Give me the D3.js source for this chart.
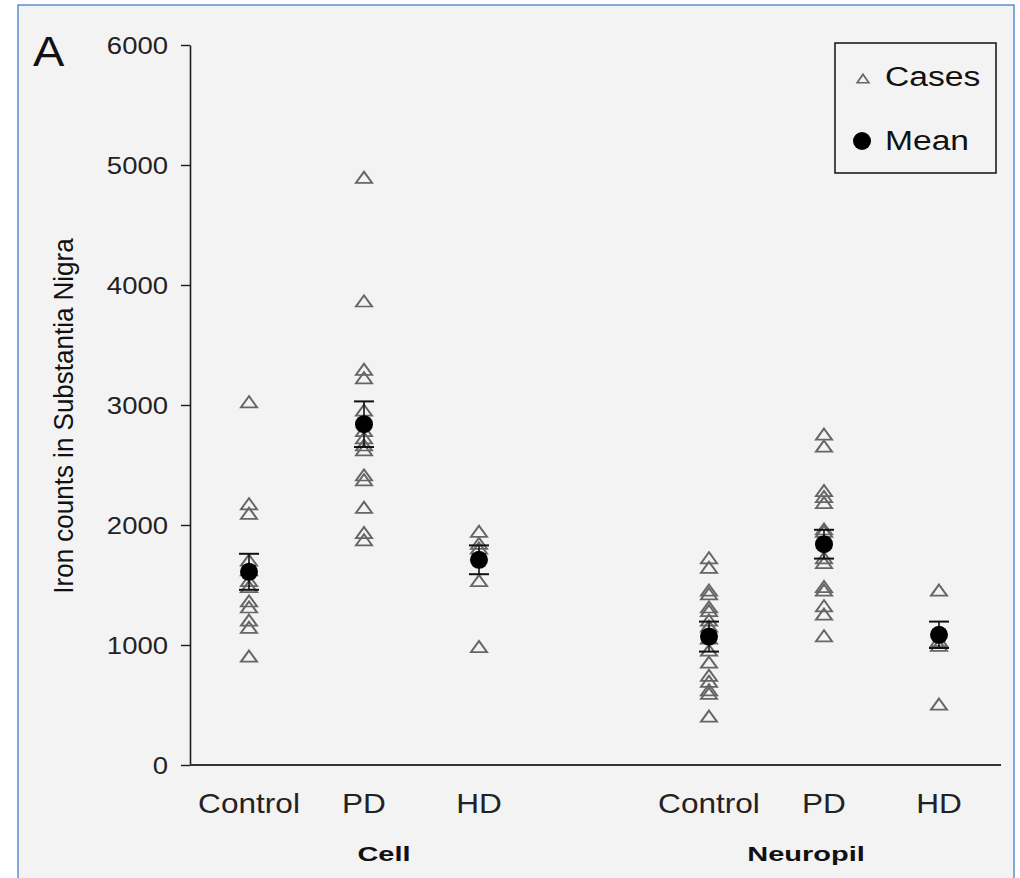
<!DOCTYPE html>
<meta charset="utf-8">
<script src="https://d3js.org/d3.v7.min.js"></script>
<style>
    body { margin: 0; background: #ffffff; }
    text { font-family: Arial, "Liberation Sans", sans-serif; }
</style>
<body>
<div id="chart"></div>
<script>
    // categories along x (slot 3 left empty as gap between Cell and Neuropil)
    var categories = ["Control", "PD", "HD", "Control", "PD", "HD"];
    var slots = [0, 1, 2, 4, 5, 6];
    var groups = [{name: "Cell", from: 0, to: 2}, {name: "Neuropil", from: 4, to: 6}];
    var yTicks = [0, 1000, 2000, 3000, 4000, 5000, 6000];

    // individual cases
    var cases = [
        [3020, 2170, 2090, 1700, 1620, 1530, 1480, 1360, 1310, 1200, 1140, 900],
        [4890, 3860, 3290, 3220, 2950, 2780, 2720, 2660, 2620, 2410, 2370, 2140, 1930, 1870],
        [1940, 1840, 1800, 1530, 980],
        [1720, 1640, 1450, 1420, 1310, 1280, 1200, 1150, 1050, 950, 850, 740, 690, 620, 590, 400],
        [2750, 2650, 2280, 2230, 2180, 1960, 1940, 1720, 1680, 1480, 1450, 1320, 1250, 1070],
        [1450, 1030, 990, 500]
    ];
    var means = [1610, 2840, 1710, 1070, 1840, 1085];
    var errors = [150, 190, 120, 125, 120, 110];

    var width = 1020, height = 878;
    var ink = "#1e1e1e";

    var svg = d3.select("#chart").append("svg")
        .attr("width", width)
        .attr("height", height);

    // panel frame
    svg.append("rect")
        .attr("x", 18).attr("y", 5)
        .attr("width", 996).attr("height", 900)
        .attr("fill", "#f3f3f4")
        .attr("stroke", "#5b8fd0")
        .attr("stroke-width", 1.5);

    var x = d3.scaleLinear().domain([0, 6]).range([249, 939]);
    var y = d3.scaleLinear().domain([0, 6000]).range([765, 45]);

    // stretch text horizontally around its anchor
    function stretch(sel, sx) {
        sel.attr("transform", function () {
            var ax = +d3.select(this).attr("x");
            return "translate(" + ax + ",0) scale(" + sx + ",1) translate(" + (-ax) + ",0)";
        });
    }

    // y axis
    var yAxis = svg.append("g")
        .attr("transform", "translate(190,0)")
        .call(d3.axisLeft(y).tickValues(yTicks).tickFormat(d3.format("d"))
            .tickSize(9).tickPadding(13).tickSizeOuter(0));
    yAxis.select(".domain").attr("stroke", ink).attr("stroke-width", 1.6);
    yAxis.selectAll(".tick line").attr("stroke", ink).attr("stroke-width", 1.4);
    yAxis.selectAll(".tick text")
        .attr("font-size", 23.5)
        .attr("fill", "#222")
        .attr("dy", "0.35em")
        .style("font-family", "Arial, 'Liberation Sans', sans-serif")
        .call(stretch, 1.17);

    // x axis line
    svg.append("line")
        .attr("x1", 190).attr("x2", 1001)
        .attr("y1", y(0)).attr("y2", y(0))
        .attr("stroke", "#333").attr("stroke-width", 2);

    // category labels
    svg.selectAll(".cat")
        .data(categories)
        .join("text")
        .attr("class", "cat")
        .attr("x", (d, i) => x(slots[i]))
        .attr("y", 813)
        .attr("text-anchor", "middle")
        .attr("font-size", 27)
        .attr("fill", "#222")
        .text(d => d)
        .call(stretch, 1.17);

    // group labels
    svg.selectAll(".grp")
        .data(groups)
        .join("text")
        .attr("class", "grp")
        .attr("x", d => (x(d.from) + x(d.to)) / 2 + (d.name === "Cell" ? 20 : -18))
        .attr("y", 861)
        .attr("text-anchor", "middle")
        .attr("font-size", 20)
        .attr("font-weight", "bold")
        .attr("fill", "#111")
        .text(d => d.name)
        .call(stretch, 1.45);

    // y axis title
    svg.append("text")
        .attr("transform", "translate(73,416) rotate(-90) scale(1,1.08)")
        .attr("text-anchor", "middle")
        .attr("font-size", 26)
        .attr("fill", "#111")
        .text("Iron counts in Substantia Nigra");

    // panel letter
    svg.append("text")
        .attr("x", 33).attr("y", 66)
        .attr("font-size", 42)
        .attr("fill", "#111")
        .text("A")
        .call(stretch, 1.12);

    var tri = d3.symbol().type(d3.symbolTriangle).size(72);

    // case triangles
    var caseGroups = svg.selectAll(".cases")
        .data(cases)
        .join("g")
        .attr("class", "cases");
    caseGroups.selectAll("path")
        .data((d, i) => d.map(v => ({v: v, slot: slots[i]})))
        .join("path")
        .attr("d", tri)
        .attr("transform", d => "translate(" + x(d.slot) + "," + (y(d.v) + 1) + ") scale(1.25,1)")
        .attr("fill", "none")
        .attr("stroke", "#666")
        .attr("stroke-width", 1.7);

    // error bars
    var eb = svg.selectAll(".err")
        .data(means)
        .join("g")
        .attr("class", "err");
    eb.append("line")
        .attr("x1", (d, i) => x(slots[i])).attr("x2", (d, i) => x(slots[i]))
        .attr("y1", (d, i) => y(d + errors[i])).attr("y2", (d, i) => y(d - errors[i]))
        .attr("stroke", "#111").attr("stroke-width", 1.6);
    eb.append("line")
        .attr("x1", (d, i) => x(slots[i]) - 10).attr("x2", (d, i) => x(slots[i]) + 10)
        .attr("y1", (d, i) => y(d + errors[i])).attr("y2", (d, i) => y(d + errors[i]))
        .attr("stroke", "#111").attr("stroke-width", 2);
    eb.append("line")
        .attr("x1", (d, i) => x(slots[i]) - 10).attr("x2", (d, i) => x(slots[i]) + 10)
        .attr("y1", (d, i) => y(d - errors[i])).attr("y2", (d, i) => y(d - errors[i]))
        .attr("stroke", "#111").attr("stroke-width", 2);

    // means
    svg.selectAll(".mean")
        .data(means)
        .join("circle")
        .attr("class", "mean")
        .attr("cx", (d, i) => x(slots[i]))
        .attr("cy", d => y(d))
        .attr("r", 9)
        .attr("fill", "#000");

    // legend
    var lg = svg.append("g").attr("transform", "translate(835,43)");
    lg.append("rect")
        .attr("width", 161).attr("height", 130)
        .attr("fill", "none")
        .attr("stroke", ink).attr("stroke-width", 1.6);
    lg.append("path")
        .attr("d", d3.symbol().type(d3.symbolTriangle).size(42))
        .attr("transform", "translate(28,37) scale(1.2,1)")
        .attr("fill", "none").attr("stroke", "#666").attr("stroke-width", 1.5);
    lg.append("text")
        .attr("x", 50).attr("y", 43)
        .attr("font-size", 28).attr("fill", "#111")
        .text("Cases")
        .call(stretch, 1.2);
    lg.append("circle")
        .attr("cx", 27).attr("cy", 98).attr("r", 9).attr("fill", "#000");
    lg.append("text")
        .attr("x", 50).attr("y", 107)
        .attr("font-size", 28).attr("fill", "#111")
        .text("Mean")
        .call(stretch, 1.2);
</script>
</body>
